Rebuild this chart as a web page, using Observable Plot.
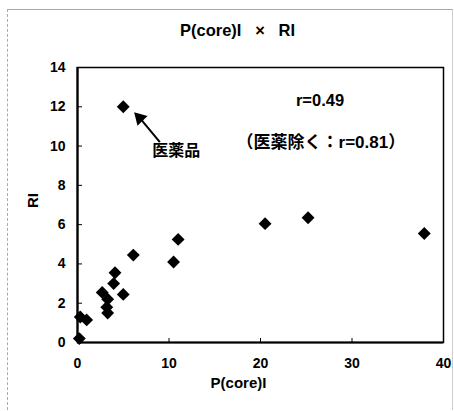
<!DOCTYPE html>
<html>
<head>
<meta charset="utf-8">
<script src="https://cdn.jsdelivr.net/npm/d3@7"></script>
<script src="https://cdn.jsdelivr.net/npm/@observablehq/plot@0.6"></script>
<style>
  html, body { margin: 0; padding: 0; background: #fff; }
  #wrap { position: relative; width: 454px; height: 411px; }
  #border { position: absolute; left: 7px; top: 9px; width: 444px; height: 400px;
            border-top: 1px solid #aaa; border-left: 1px dashed #aaa; border-right: 1px solid #ccc; pointer-events: none; }
</style>
</head>
<body>
<div id="wrap"><div id="border"></div></div>
<script>
// Data
const pCore = [0.2, 0.3, 1.0, 2.7, 3.3, 3.2, 3.3, 3.95, 4.1, 5.0, 6.1, 10.5, 11.0, 5.0, 20.5, 25.2, 37.9];
const ri    = [0.2, 1.3, 1.15, 2.55, 2.2, 1.8, 1.5, 3.0, 3.55, 2.45, 4.45, 4.1, 5.25, 12.0, 6.05, 6.35, 5.55];
const xTicks = [0, 10, 20, 30, 40];
const yTicks = [0, 2, 4, 6, 8, 10, 12, 14];
const titleText = "P(core)I\u00a0\u00a0\u00a0×\u00a0\u00a0\u00a0RI";
const xLabel = "P(core)I";
const yLabel = "RI";
const noteR = [{x: 26.5, y: 12.3, text: "r=0.49"}];
const noteExcl = [{x: 26.6, y: 10.2, text: "（医薬除く：r=0.81）"}];
const noteDrug = [{x: 10.8, y: 9.78, text: "医薬品"}];
const arrowFrom = {x: 9.0, y: 10.2};
const arrowTip = {x: 6.8, y: 11.43};

const points = pCore.map((x, i) => ({x, y: ri[i]}));
const font = "'Liberation Sans', Arial, 'Noto Sans CJK JP', sans-serif";

const chart = Plot.plot({
  width: 454,
  height: 411,
  marginLeft: 77,
  marginRight: 11,
  marginTop: 67,
  marginBottom: 69,
  style: {fontFamily: font, fontWeight: "bold", fontSize: "14px", background: "transparent"},
  x: {domain: [0, 40], ticks: xTicks},
  y: {domain: [0, 14], ticks: yTicks},
  marks: [
    Plot.frame({stroke: "black", strokeWidth: 1.5}),
    Plot.ruleX([0], {stroke: "black", strokeWidth: 2.2}),
    Plot.ruleY([0], {stroke: "black", strokeWidth: 2.2}),
    Plot.axisY({ticks: yTicks, tickSize: -5, text: null, stroke: "black"}),
    Plot.axisY({ticks: yTicks, tickSize: 0, tickPadding: 12, fontSize: 14, fontWeight: "bold", fill: "black", label: null}),
    Plot.axisX({ticks: xTicks, tickSize: -4, text: null, stroke: "black"}),
    Plot.axisX({ticks: xTicks, tickSize: 0, tickPadding: 16, fontSize: 14, fontWeight: "bold", fill: "black", label: null}),
    Plot.text([titleText], {frameAnchor: "top", lineAnchor: "middle", dx: -23, dy: -37, fontSize: 16.5, fontWeight: "bold", fill: "black"}),
    Plot.text([xLabel], {frameAnchor: "bottom", lineAnchor: "middle", dx: -22, dy: 41, fontSize: 15, fontWeight: "bold", fill: "black"}),
    Plot.text([yLabel], {frameAnchor: "left", dx: -44, dy: 3, rotate: -90, fontSize: 15, fontWeight: "bold", fill: "black"}),
    Plot.dot(points, {x: "x", y: "y", symbol: "diamond2", r: 5.8, fill: "black", stroke: null}),
    Plot.link([{x1: arrowFrom.x, y1: arrowFrom.y, x2: arrowTip.x, y2: arrowTip.y}],
      {x1: "x1", y1: "y1", x2: "x2", y2: "y2", stroke: "black", strokeWidth: 2}),
    Plot.dot([arrowTip], {x: "x", y: "y", symbol: "triangle", r: 5.2, rotate: -44, fill: "black", stroke: null}),
    Plot.text(noteR, {x: "x", y: "y", text: "text", fontSize: 16.5, fontWeight: "bold", fill: "black"}),
    Plot.text(noteExcl, {x: "x", y: "y", text: "text", fontSize: 17, fontWeight: "bold", fill: "black"}),
    Plot.text(noteDrug, {x: "x", y: "y", text: "text", fontSize: 16, fontWeight: "bold", fill: "black",
      fontFamily: "'Noto Sans CJK JP', sans-serif"})
  ]
});
document.getElementById("wrap").appendChild(chart);
</script>
</body>
</html>
